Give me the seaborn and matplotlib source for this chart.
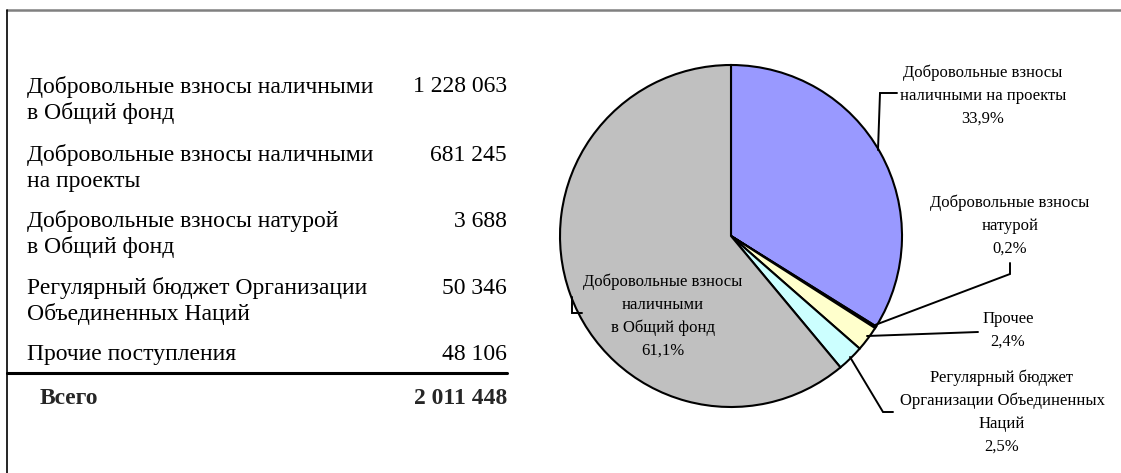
import matplotlib
matplotlib.use("Agg")
import matplotlib.pyplot as plt
import seaborn as sns

# --- data ---
table_labels = ["Добровольные взносы наличными\nв Общий фонд",
                "Добровольные взносы наличными\nна проекты",
                "Добровольные взносы натурой\nв Общий фонд",
                "Регулярный бюджет Организации\nОбъединенных Наций",
                "Прочие поступления"]
table_values = [1228063, 681245, 3688, 50346, 48106]
total_label = "Всего"

# pie order (clockwise from 12 o'clock)
pie_labels = ["Добровольные взносы\nналичными на проекты",
              "Добровольные взносы\nнатурой",
              "Прочее",
              "Регулярный бюджет\nОрганизации Объединенных\nНаций",
              "Добровольные взносы\nналичными\nв Общий фонд"]
pie_values = [681245, 3688, 48106, 50346, 1228063]
pie_colors = ["#9999FF", "#993366", "#FFFFCC", "#CCFFFF", "#C0C0C0"]

sns.set_theme(style="white")
plt.rcParams["font.family"] = ["Liberation Serif", "DejaVu Serif"]

W, H = 1121, 473
fig = plt.figure(figsize=(W / 100, H / 100), dpi=100)
ax = fig.add_axes([0, 0, 1, 1])


def fmt_num(v):
    return f"{v:,}".replace(",", " ")


# --- pie (screen: start at top, go clockwise; y axis is inverted) ---
wedges, _ = ax.pie(pie_values, colors=pie_colors, startangle=-90, counterclock=True,
                   center=(731, 236), radius=171,
                   wedgeprops=dict(edgecolor="black", linewidth=1.5))

ax.set_xlim(0, W)
ax.set_ylim(H, 0)
ax.set_aspect("auto")
ax.axis("off")

total = sum(pie_values)
pct = [f"{v / total * 100:.1f}%".replace(".", ",") for v in pie_values]

fs_pie = 12
# label positions (centre x, first line y) and leader lines
pie_text_pos = [(983, 73), (1010, 203), (1008, 319), (1002, 378), (663, 282)]
leaders = [[(878, 150), (880, 93), (897, 93)],
           [(875, 325), (1010, 274), (1010, 263)],
           [(867, 336), (978, 332)],
           [(850, 357), (883, 412), (893, 412)],
           [(572, 297), (572, 313), (582, 313)]]

for lab, p, (x, y), ld in zip(pie_labels, pct, pie_text_pos, leaders):
    lines = lab.split("\n") + [p]
    step = 23
    for k, t in enumerate(lines):
        ax.text(x, y + k * step, t, ha="center", va="center", fontsize=fs_pie, color="black")
    xs, ys = zip(*ld)
    ax.plot(xs, ys, color="black", linewidth=1.4, solid_joinstyle="miter")

# --- table on the left ---
fs_tab = 17
row_y = [87, 155, 221, 288, 354]
for lab, v, y in zip(table_labels, table_values, row_y):
    for k, t in enumerate(lab.split("\n")):
        ax.text(27, y + k * 26, t, ha="left", va="center", fontsize=fs_tab, color="black")
    ax.text(507, y, fmt_num(v), ha="right", va="center", fontsize=fs_tab, color="black")

ax.plot([7, 507], [373, 373], color="black", linewidth=2.2)
ax.text(40, 398, total_label, ha="left", va="center", fontsize=fs_tab, fontweight="bold")
ax.text(507, 398, fmt_num(sum(table_values)), ha="right", va="center",
        fontsize=fs_tab, fontweight="bold")

# frame lines
ax.plot([7, W], [10.5, 10.5], color="#808080", linewidth=1.8)
ax.plot([7, 7], [10, H], color="black", linewidth=1.2)

fig.savefig("out.png", dpi=100)
